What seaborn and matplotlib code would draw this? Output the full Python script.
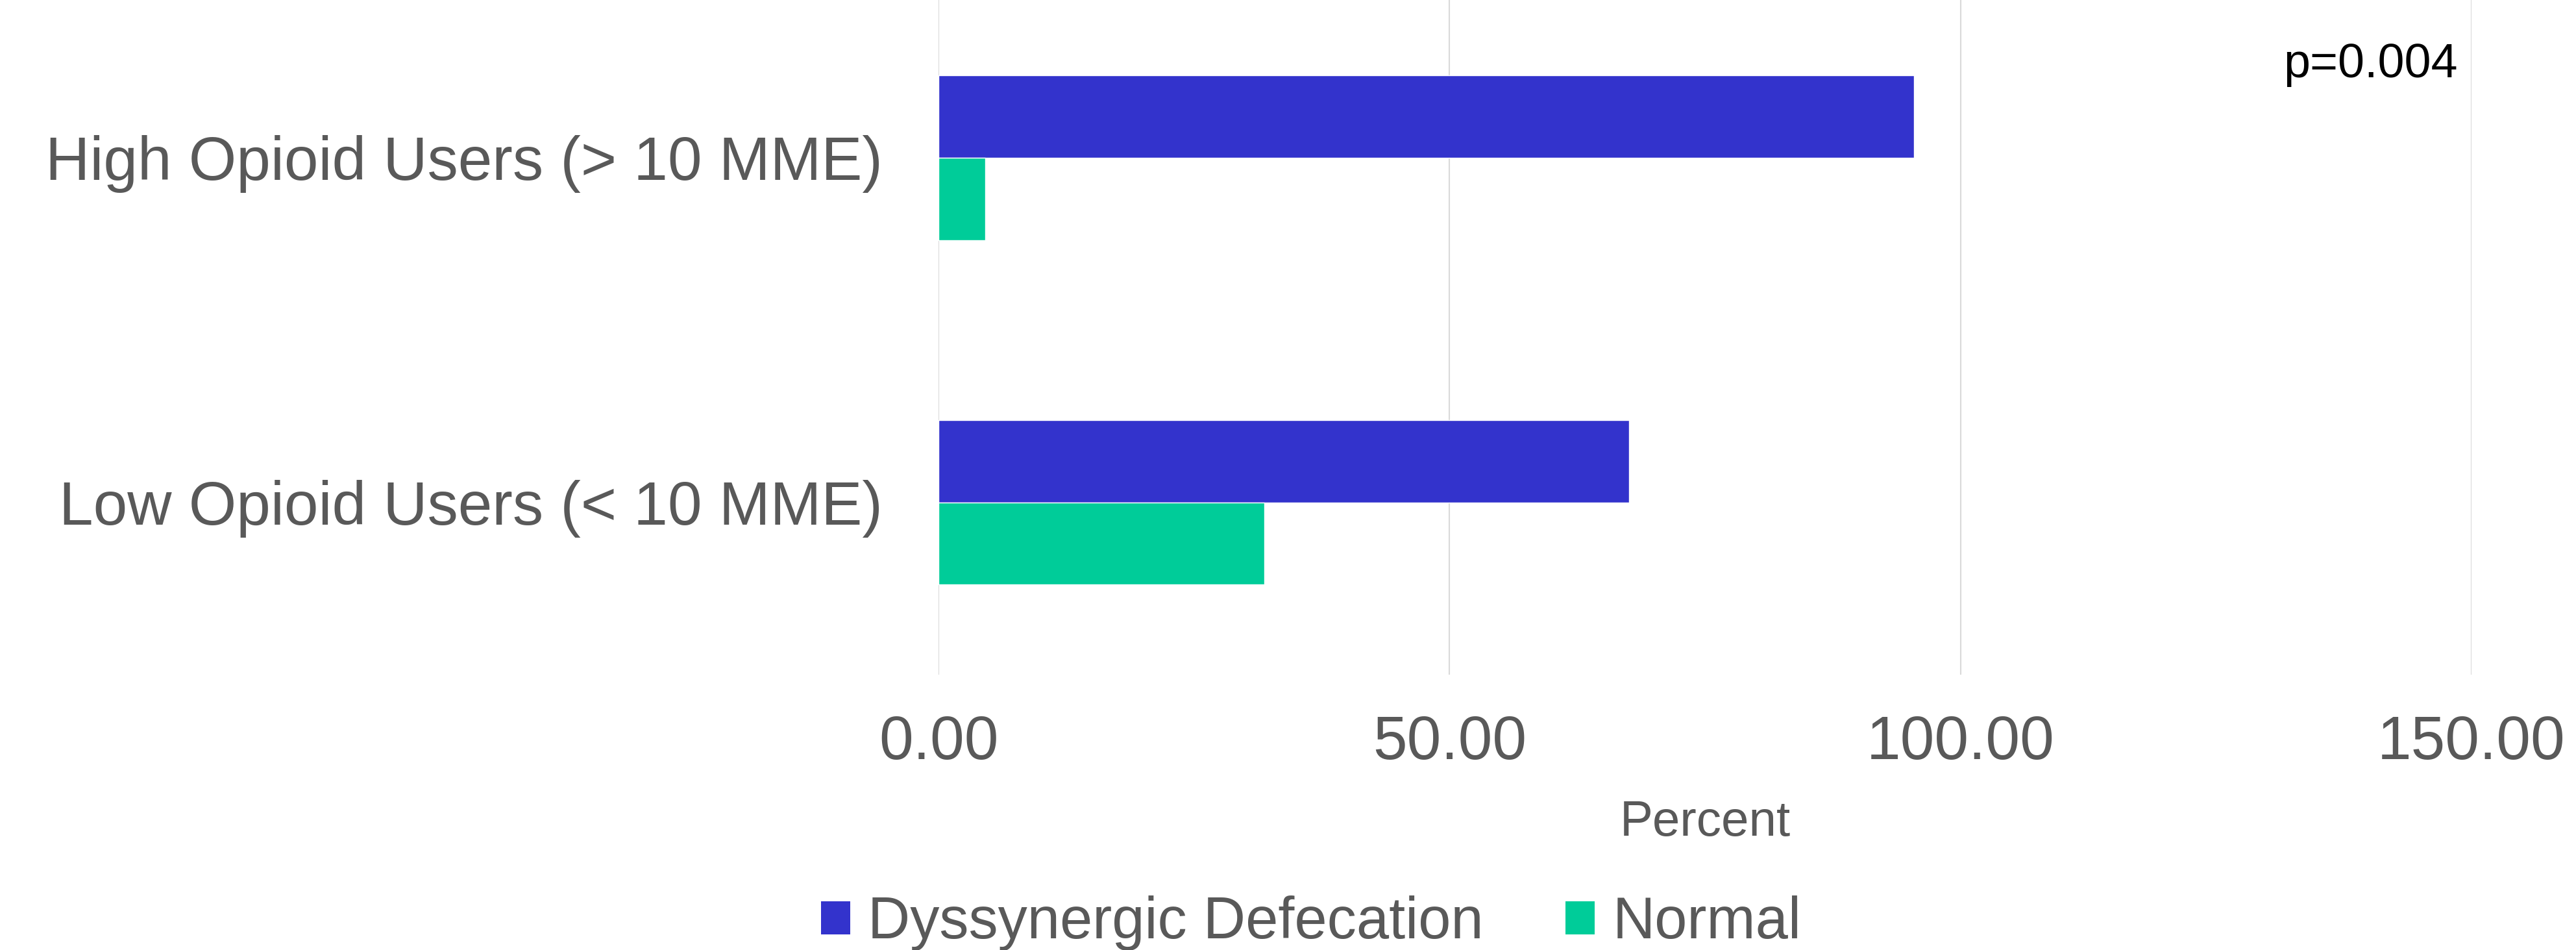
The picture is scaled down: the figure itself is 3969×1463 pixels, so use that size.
import matplotlib
matplotlib.use("Agg")
import matplotlib.pyplot as plt
import seaborn as sns
import pandas as pd
from matplotlib.patches import Patch

categories = ["High Opioid Users (> 10 MME)", "Low Opioid Users (< 10 MME)"]
series_names = ["Dyssynergic Defecation", "Normal"]
dyssynergic = [95.45, 67.6]
normal = [4.55, 31.9]
x_ticks = [0, 50, 100, 150]
p_text = "p=0.004"
colors = ["#3333CC", "#00CC99"]

rows = []
for c, d, n in zip(categories, dyssynergic, normal):
    rows.append({"Group": c, "Outcome": series_names[0], "Percent": d})
    rows.append({"Group": c, "Outcome": series_names[1], "Percent": n})
df = pd.DataFrame(rows)

sns.set_style("white")
plt.rcParams["font.family"] = ["Liberation Sans", "DejaVu Sans"]

W, H = 3969, 1463
fig = plt.figure(figsize=(W / 100, H / 100), dpi=100)
left, right = 1446 / W, 3808 / W
bottom = 1 - 1039 / H
ax = fig.add_axes([left, bottom, right - left, 1.0 - bottom])

sns.barplot(data=df, y="Group", x="Percent", hue="Outcome", order=categories,
            hue_order=series_names, palette=colors, orient="h", width=0.478,
            saturation=1, ax=ax, legend=False, errorbar=None)

ax.set_xlim(0, 150)
ax.set_ylim(1.5, -0.457)
ax.set_xticks(x_ticks)
ax.set_xticklabels([f"{v:.2f}" for v in x_ticks])
ax.grid(axis="x", color="#D9D9D9", linewidth=1.5)
ax.set_axisbelow(True)
for s in ax.spines.values():
    s.set_visible(False)
ax.tick_params(axis="both", length=0, labelsize=68, labelcolor="#595959")
ax.tick_params(axis="y", pad=62)
ax.tick_params(axis="x", pad=44)
ax.set_ylabel("")
ax.set_xlabel("Percent", fontsize=55, color="#595959")
ax.xaxis.label.set_va("baseline")
ax.xaxis.set_label_coords(0.5, -248 / 1039)

fig.text(3787 / W, 1 - 119 / H, p_text, ha="right", va="baseline",
         fontsize=53, color="black")

handles = [Patch(facecolor=c, edgecolor="none") for c in colors]
fig.legend(handles, series_names, loc="center", bbox_to_anchor=(2020 / W, 1 - 1422 / H),
           ncol=2, frameon=False, fontsize=65, labelcolor="#595959",
           handlelength=0.5, handleheight=0.5, handletextpad=0.3, columnspacing=1.4,
           borderaxespad=0, borderpad=0)

fig.savefig("out.png", dpi=100, facecolor="white")
